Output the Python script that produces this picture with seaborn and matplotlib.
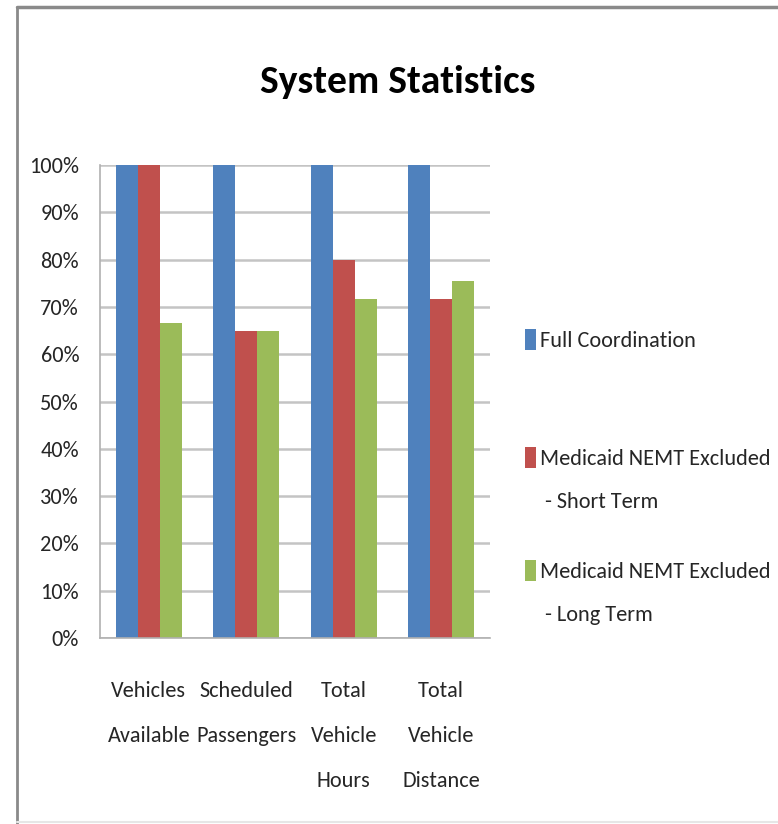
import matplotlib
matplotlib.use("Agg")
import matplotlib.pyplot as plt
from matplotlib import font_manager
from matplotlib.patches import Rectangle
from matplotlib.lines import Line2D
import seaborn as sns
import pandas as pd

# ----------------------------
# Chart data
# ----------------------------
categories = ["Vehicles\nAvailable", "Scheduled\nPassengers",
              "Total\nVehicle\nHours", "Total\nVehicle\nDistance"]
series = ["Full Coordination",
          "Medicaid NEMT Excluded\n - Short Term",
          "Medicaid NEMT Excluded\n - Long Term"]
full_coord = [100, 100, 100, 100]
short_term = [100, 65, 80, 71.6]
long_term = [66.5, 65, 71.6, 75.5]
colors = ["#4F81BD", "#C0504D", "#9BBB59"]
ytick_values = list(range(0, 101, 10))
ytick_labels = [f"{v}%" for v in ytick_values]

rows = []
for name, vals in zip(series, [full_coord, short_term, long_term]):
    for cat, v in zip(categories, vals):
        rows.append({"Category": cat, "Series": name, "Value": v})
df = pd.DataFrame(rows)

# Calibri-like font if we have one
installed = {f.name for f in font_manager.fontManager.ttflist}
wanted = ["Carlito", "Liberation Sans Narrow", "PT Sans Narrow",
          "Open Sans Condensed", "Roboto Condensed", "Fira Sans Condensed",
          "Archivo Narrow", "Noto Sans"]
font = next((f for f in wanted if f in installed), "DejaVu Sans")

sns.set_style("white")
plt.rcParams['font.family'] = [font, 'DejaVu Sans']

W, H = 778, 824
fig = plt.figure(figsize=(W / 100, H / 100), dpi=100)
ax = fig.add_axes([100 / W, 1 - 638 / H, 390 / W, 473 / H])

sns.barplot(data=df, x="Category", y="Value", hue="Series", order=categories,
            hue_order=series, palette=colors, width=0.68, saturation=1,
            edgecolor="none", legend=False, ax=ax)

ax.set_ylim(0, 100)
ax.set_xlim(-0.5, len(categories) - 0.5)
ax.set_yticks(ytick_values)
ax.set_yticklabels(ytick_labels, fontsize=16, color="#262626")
ax.set_xlabel("")
ax.set_ylabel("")

# gridlines
ax.set_axisbelow(True)
ax.yaxis.grid(True, color="#c4c4c4", linewidth=1.8)
ax.xaxis.grid(False)

# spines
for s in ["top", "right"]:
    ax.spines[s].set_visible(False)
for s in ["left", "bottom"]:
    ax.spines[s].set_color("#b0b0b0")
    ax.spines[s].set_linewidth(1.2)

ax.tick_params(axis="y", length=6, width=1.2, color="#b0b0b0", pad=9)
# category labels without marks, boundary marks as minor ticks
ax.set_xticks(range(len(categories)))
ax.set_xticklabels(categories, fontsize=16, color="#262626", linespacing=2.55,
                   va="top")
ax.tick_params(axis="x", which="major", length=0, pad=31)
ax.set_xticks([i - 0.5 for i in range(len(categories) + 1)], minor=True)
ax.tick_params(axis="x", which="minor", length=6, width=1.2, color="#b0b0b0")

# title
fig.text(398 / W, 1 - 93 / H, "System Statistics", fontsize=28.5,
         fontweight="bold", ha="center", va="baseline", color="black")

# legend drawn at the right
legend_first_lines = [339, 457, 570]
for name, col, yc in zip(series, colors, legend_first_lines):
    fig.add_artist(Rectangle((525 / W, 1 - (yc + 11) / H), 11 / W, 21 / H,
                             transform=fig.transFigure, color=col, lw=0))
    fig.text(540 / W, 1 - (yc - 8) / H, name, fontsize=16, ha="left",
             va="top", linespacing=2.45, color="#262626")

# outer frame of the screenshot
fig.add_artist(Line2D([17 / W, 17 / W], [0, 1 - 7 / H],
                      transform=fig.transFigure, color="#8a8a8a", lw=2))
fig.add_artist(Line2D([17 / W, 1], [1 - 7 / H, 1 - 7 / H],
                      transform=fig.transFigure, color="#8a8a8a", lw=2.5))
fig.add_artist(Line2D([17 / W, 1], [1 - 822 / H, 1 - 822 / H],
                      transform=fig.transFigure, color="#e6e6e6", lw=1.5))

fig.savefig("out.png", dpi=100)
